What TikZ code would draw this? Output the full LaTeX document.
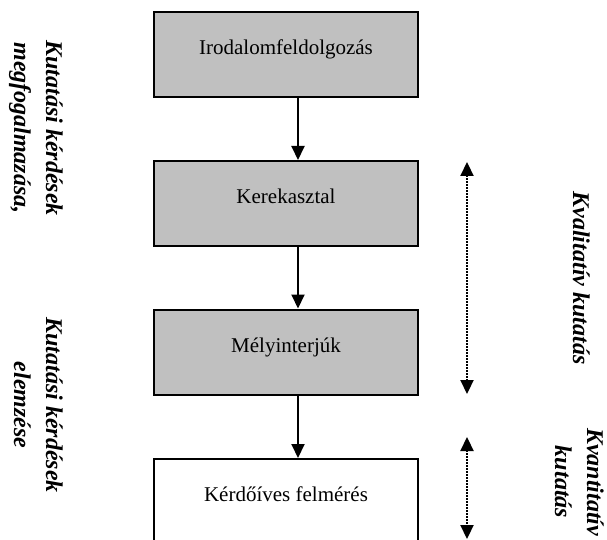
\documentclass[tikz,border=0pt]{standalone}
\usepackage{fontspec}
\setmainfont{Liberation Serif}
\usetikzlibrary{arrows.meta}
\begin{document}
\begin{tikzpicture}[x=1pt,y=-1pt,
  stepbox/.style={draw=black,line width=2pt,fill=boxgray,minimum width=264pt,minimum height=85pt,
    inner sep=0pt,text height=0pt,text depth=0pt,font=\fontsize{21}{25}\selectfont},
  flow/.style={line width=2pt,-{Triangle[length=14pt,width=13pt]}},
  span/.style={line width=2.2pt,dash pattern=on 1.5pt off 1.5pt,
    {Triangle[length=14pt,width=13pt]}-{Triangle[length=14pt,width=13pt]}},
  sidetext/.style={rotate=-90,anchor=base,align=center,
    font=\fontsize{24}{32}\selectfont\bfseries\itshape}]
\definecolor{boxgray}{RGB}{192,192,192}
\useasboundingbox (0,0) rectangle (607,540);
\clip (0,0) rectangle (607,540);
\node[stepbox] (b1) at (286,54.5) {Irodalomfeldolgozás};
\node[stepbox] (b2) at (286,203.5) {Kerekasztal};
\node[stepbox] (b3) at (286,352) {Mélyinterjúk};
\node[stepbox,fill=white] (b4) at (286,501.5) {Kérdőíves felmérés};
\draw[flow] ([xshift=12pt]b1.south) -- ([xshift=12pt]b2.north);
\draw[flow] ([xshift=12pt]b2.south) -- ([xshift=12pt]b3.north);
\draw[flow] ([xshift=12pt]b3.south) -- ([xshift=12pt]b4.north);
\coordinate (q1) at (467,162);
\coordinate (q2) at (467,394);
\coordinate (n1) at (467,437);
\coordinate (n2) at (467,539);
\draw[span] (q1) -- (q2);
\draw[span] (n1) -- (n2);
\node[sidetext] (t1) at (14,128) {Kutatási kérdések\\megfogalmazása,};
\node[sidetext] (t2) at (14,405) {Kutatási kérdések\\elemzése};
\node[sidetext] (t3) at (573,278) {Kvalitatív kutatás};
\node[sidetext] (t4) at (555,482) {Kvantitatív\\kutatás};
\end{tikzpicture}
\end{document}
